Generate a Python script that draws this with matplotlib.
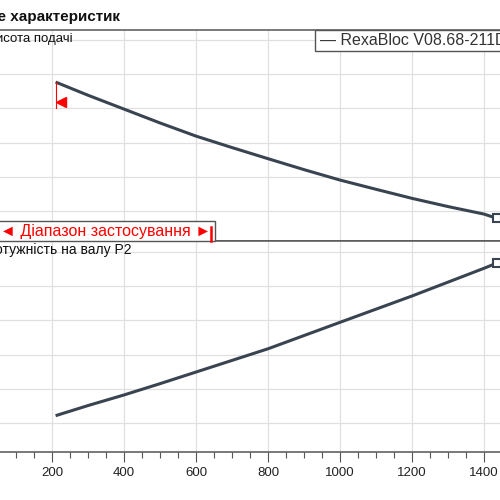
import numpy as np
import matplotlib
matplotlib.use('Agg')
import matplotlib.pyplot as plt
from matplotlib.patches import Rectangle

plt.rcParams['font.family'] = ['Liberation Sans', 'DejaVu Sans']

# flow values (shared x axis)
flow = [210, 300, 400, 500, 600, 700, 800, 900, 1000, 1100, 1200, 1300, 1400, 1436]
# delivery head (top panel)
head = [9.54, 8.77, 7.96, 7.15, 6.38, 5.71, 5.06, 4.42, 3.81, 3.27, 2.74, 2.26, 1.82, 1.57]
# shaft power P2 (bottom panel)
flow_p = [210, 300, 400, 500, 600, 700, 800, 1000, 1200, 1400, 1436]
power = [0.607, 0.755, 0.91, 1.075, 1.245, 1.415, 1.585, 1.972, 2.357, 2.762, 2.839]

head_grid = [2, 4, 6, 8, 10, 12]
power_grid = [0.5, 1.0, 1.5, 2.0, 2.5, 3.0]
x_major = np.arange(0, 1601, 200)
x_minor = np.arange(0, 1601, 50)

line_col = '#3a4450'
grid_col = '#e0e0e0'
frame_col = '#555555'

fig = plt.figure(figsize=(5, 5), dpi=100)
ax1 = fig.add_axes([-0.04, 0.518, 1.152, 0.422])
ax2 = fig.add_axes([-0.04, 0.096, 1.152, 0.422])

for ax in (ax1, ax2):
    ax.set_xlim(0, 1600)
    ax.set_xticks(x_major)
    ax.grid(True, color=grid_col, lw=0.9)
    ax.set_axisbelow(True)
    for s in ('left', 'right'):
        ax.spines[s].set_visible(False)
    for s in ('top', 'bottom'):
        ax.spines[s].set_color(frame_col)
        ax.spines[s].set_linewidth(1.1)
    ax.tick_params(axis='y', length=0, labelleft=False)

ax1.set_ylim(0.246, 12.585)
ax1.set_yticks(head_grid)
ax1.tick_params(axis='x', length=0, labelbottom=False)

ax2.set_ylim(0.076, 3.161)
ax2.set_yticks(power_grid)
ax2.set_xticks(x_minor, minor=True)
ax2.set_xticklabels([str(v) for v in x_major])
ax2.tick_params(axis='x', which='major', length=7, width=0.8, color=frame_col,
                labelsize=9.5, labelcolor='#222222', pad=4)
ax2.tick_params(axis='x', which='minor', length=4.5, width=0.8, color=frame_col)

# curves
ax1.plot(flow, head, color=line_col, lw=2.2, solid_capstyle='butt')
ax1.plot(flow[-1], head[-1], 's', ms=6, mfc='white', mec=line_col, mew=1.5)
ax2.plot(flow_p, power, color=line_col, lw=2.2, solid_capstyle='butt')
ax2.plot(flow_p[-1], power[-1], 's', ms=6, mfc='white', mec=line_col, mew=1.5)

# start of the operating range
ax1.plot([210, 210], [head[0], 8.0], color='red', lw=0.8)
ax1.plot(226, 8.37, '<', color='red', ms=7, mec='red')

# texts
fig.text(120 / 500, 1 - 21 / 500, 'Поле характеристик', ha='right', va='baseline',
         fontsize=11, fontweight='bold', color='#111111')
fig.text(73 / 500, 1 - 42 / 500, 'Висота подачі', ha='right', va='baseline',
         fontsize=9.5, color='#111111')
fig.text(132 / 500, 1 - 254 / 500, 'Потужність на валу P2', ha='right', va='baseline',
         fontsize=10, color='#111111')

# legend box (cut at the right edge)
fig.text(320 / 500, 1 - 45 / 500, '— RexaBloc V08.68-211D ', ha='left', va='baseline',
         fontsize=11.5, color='#333333', zorder=5)
fig.patches.append(Rectangle((315 / 500, 1 - 51 / 500), 0.4, 21 / 500,
                             transform=fig.transFigure, fc='white', ec=frame_col,
                             lw=1.0, zorder=4))

# operating range label
fig.patches.append(Rectangle((-0.01, 1 - 241 / 500), 220 / 500, 20 / 500,
                             transform=fig.transFigure, fc='white', ec=frame_col,
                             lw=1.0, zorder=4))
fig.text(0 / 500, 1 - 236 / 500, '◄ Діапазон застосування ►', ha='left', va='baseline',
         fontsize=11.5, color='red', zorder=5)
fig.add_artist(plt.Line2D([210.5 / 500, 210.5 / 500], [1 - 241 / 500, 1 - 227 / 500],
                          transform=fig.transFigure, color='red', lw=1.8, zorder=6))

fig.savefig('out.png', dpi=100)
